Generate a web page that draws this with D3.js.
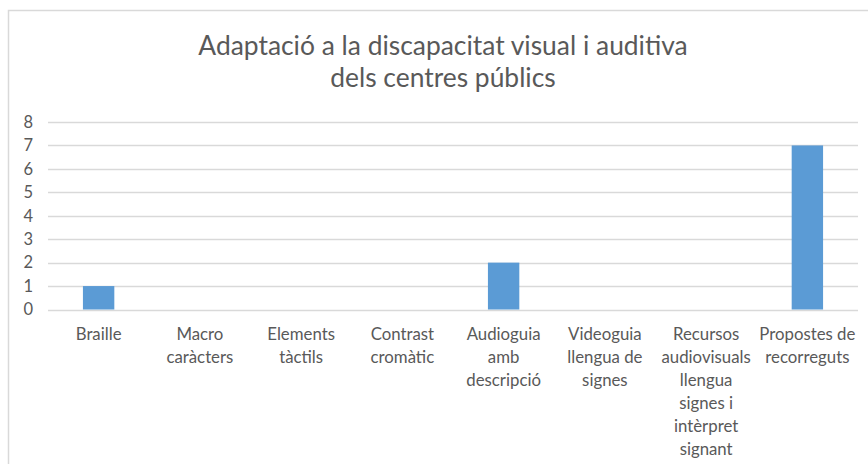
<!DOCTYPE html>
<html>
<head>
<meta charset="utf-8">
<script src="https://cdn.jsdelivr.net/npm/d3@7"></script>
<style>
  html, body { margin: 0; padding: 0; background: #fff; }
  svg { display: block; }
</style>
</head>
<body>
<svg id="chart" width="868" height="464"></svg>
<script>
// Chart data
const categories = [
  "Braille", "Macro caràcters", "Elements tàctils", "Contrast cromàtic",
  "Audioguia amb descripció", "Videoguia llengua de signes",
  "Recursos audiovisuals llengua signes i intèrpret signant",
  "Propostes de recorreguts"
];
const categoryLines = [
  ["Braille"],
  ["Macro", "caràcters"],
  ["Elements", "tàctils"],
  ["Contrast", "cromàtic"],
  ["Audioguia", "amb", "descripció"],
  ["Videoguia", "llengua de", "signes"],
  ["Recursos", "audiovisuals", "llengua", "signes i", "intèrpret", "signant"],
  ["Propostes de", "recorreguts"]
];
const values = [1, 0, 0, 0, 2, 0, 0, 7];
const yTicks = [0, 1, 2, 3, 4, 5, 6, 7, 8];
const titleLines = ["Adaptació a la discapacitat visual i auditiva", "dels centres públics"];

const font = "Lato, 'Open Sans', sans-serif";
const textColor = "#595959";

const svg = d3.select("#chart");

// Chart area frame
svg.append("path")
  .attr("d", "M8.5,464 V10.5 H868")
  .attr("fill", "none")
  .attr("stroke", "#d9d9d9")
  .attr("stroke-width", 1.5);

const plot = { left: 48, right: 858, top: 122, bottom: 309.5 };

const x = d3.scaleBand()
  .domain(categories)
  .range([plot.left, plot.right])
  .paddingInner(0.69)
  .paddingOuter(0.345);

const y = d3.scaleLinear()
  .domain([0, 8])
  .range([plot.bottom, plot.top]);

// Gridlines
svg.append("g")
  .selectAll("line")
  .data(yTicks)
  .join("line")
  .attr("x1", plot.left)
  .attr("x2", plot.right)
  .attr("y1", d => Math.round(y(d)) + 0.5)
  .attr("y2", d => Math.round(y(d)) + 0.5)
  .attr("stroke", "#d9d9d9")
  .attr("stroke-width", 1.5);

// Y axis labels
const yAxis = d3.axisLeft(y).tickValues(yTicks).tickSize(0).tickPadding(0);
const yg = svg.append("g")
  .attr("transform", `translate(${plot.left - 15},0)`)
  .call(yAxis);
yg.select(".domain").remove();
yg.selectAll("text")
  .attr("font-family", font)
  .attr("font-size", 16.5)
  .attr("fill", textColor);

// Bars
svg.append("g")
  .selectAll("rect")
  .data(values.map((v, i) => ({ c: categories[i], v })))
  .join("rect")
  .attr("x", d => x(d.c))
  .attr("width", x.bandwidth())
  .attr("y", d => y(d.v))
  .attr("height", d => y(0) - y(d.v))
  .attr("fill", "#5b9bd5");

// Category labels
const bandCenter = c => x(c) + x.bandwidth() / 2;
const labels = svg.append("g")
  .attr("font-family", font)
  .attr("font-size", 16.8)
  .attr("fill", textColor)
  .attr("text-anchor", "middle");
categories.forEach((c, i) => {
  const t = labels.append("text")
    .attr("x", bandCenter(c))
    .attr("y", 339.5);
  categoryLines[i].forEach((line, j) => {
    t.append("tspan")
      .attr("x", bandCenter(c))
      .attr("dy", j === 0 ? 0 : 23)
      .text(line);
  });
});

// Title
const title = svg.append("text")
  .attr("font-family", font)
  .attr("font-size", 26.4)
  .attr("fill", textColor)
  .attr("text-anchor", "middle")
  .attr("y", 55);
titleLines.forEach((line, j) => {
  title.append("tspan")
    .attr("x", 443)
    .attr("dy", j === 0 ? 0 : 32)
    .text(line);
});
</script>
</body>
</html>
